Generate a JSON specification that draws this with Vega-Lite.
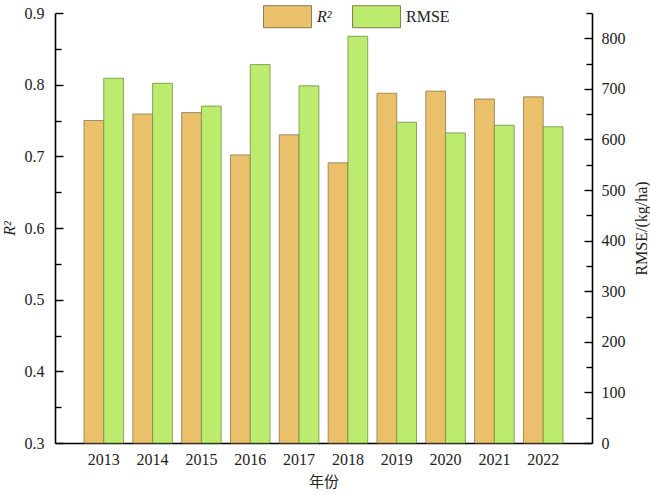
{
  "$schema": "https://vega.github.io/schema/vega-lite/v6.json",
  "width": 537,
  "height": 430,
  "autosize": {"type": "none"},
  "padding": {"left": 55, "top": 13, "right": 58, "bottom": 52},
  "background": "white",
  "config": {
    "view": {"stroke": null},
    "font": "Liberation Serif",
    "axis": {
      "labelFont": "Liberation Serif",
      "titleFont": "Liberation Serif",
      "labelFontSize": 16,
      "titleFontSize": 16,
      "labelColor": "#222",
      "titleColor": "#222",
      "domainColor": "black",
      "domainWidth": 1.6,
      "tickColor": "black",
      "tickWidth": 1.4,
      "grid": false,
      "titleFontWeight": "normal"
    }
  },
  "data": {
    "values": [
      {"year": "2013", "metric": "R²", "value": 0.750},
      {"year": "2014", "metric": "R²", "value": 0.759},
      {"year": "2015", "metric": "R²", "value": 0.761},
      {"year": "2016", "metric": "R²", "value": 0.702},
      {"year": "2017", "metric": "R²", "value": 0.730},
      {"year": "2018", "metric": "R²", "value": 0.691},
      {"year": "2019", "metric": "R²", "value": 0.788},
      {"year": "2020", "metric": "R²", "value": 0.791},
      {"year": "2021", "metric": "R²", "value": 0.780},
      {"year": "2022", "metric": "R²", "value": 0.783},
      {"year": "2013", "metric": "RMSE", "value": 721},
      {"year": "2014", "metric": "RMSE", "value": 711},
      {"year": "2015", "metric": "RMSE", "value": 666},
      {"year": "2016", "metric": "RMSE", "value": 748},
      {"year": "2017", "metric": "RMSE", "value": 706},
      {"year": "2018", "metric": "RMSE", "value": 804},
      {"year": "2019", "metric": "RMSE", "value": 634},
      {"year": "2020", "metric": "RMSE", "value": 613},
      {"year": "2021", "metric": "RMSE", "value": 628},
      {"year": "2022", "metric": "RMSE", "value": 625}
    ]
  },
  "encoding": {
    "x": {
      "field": "year",
      "type": "nominal",
      "scale": {"paddingInner": 0.19, "paddingOuter": 0.594},
      "axis": {
        "title": "年份",
        "titleFont": "Noto Sans CJK SC",
        "titleFontSize": 15,
        "titlePadding": 7,
        "labelAngle": 0,
        "ticks": false,
        "labelPadding": 8
      }
    },
    "xOffset": {
      "field": "metric",
      "type": "nominal",
      "scale": {"domain": ["R²", "RMSE"], "paddingInner": 0}
    },
    "color": {
      "field": "metric",
      "type": "nominal",
      "scale": {"domain": ["R²", "RMSE"], "range": ["#EBC06B", "#BDEB6E"]},
      "legend": {
        "title": null,
        "orient": "none",
        "legendX": 208,
        "legendY": -21,
        "direction": "horizontal",
        "symbolType": "M-1,-0.46H1V0.46H-1Z",
        "symbolSize": 2300,
        "symbolStrokeColor": "#8a7a50",
        "symbolStrokeWidth": 1,
        "labelFont": "Liberation Serif",
        "labelFontSize": 16,
        "labelColor": "#222",
        "labelOffset": 5,
        "columnPadding": 18,
        "encode": {
          "labels": {
            "update": {
              "fontStyle": {"signal": "datum.label == 'R²' ? 'italic' : 'normal'"}
            }
          }
        }
      }
    }
  },
  "layer": [
    {
      "transform": [{"filter": "datum.metric == 'R²'"}],
      "mark": {"type": "bar", "stroke": "#8a7a50", "strokeWidth": 0.8},
      "encoding": {
        "y": {
          "field": "value",
          "type": "quantitative",
          "scale": {"domain": [0.3, 0.9], "nice": false, "zero": false},
          "axis": {
            "orient": "left",
            "title": "R²",
            "titleFontStyle": "italic",
            "titleFontSize": 16,
            "titlePadding": 7,
            "values": [0.3, 0.35, 0.4, 0.45, 0.5, 0.55, 0.6, 0.65, 0.7, 0.75, 0.8, 0.85, 0.9],
            "labelExpr": "abs(datum.value * 10 - round(datum.value * 10)) < 0.01 ? format(datum.value, '.1f') : ''",
            "tickSize": {"condition": {"test": "abs(datum.value * 10 - round(datum.value * 10)) < 0.01", "value": -8}, "value": -6},
            "labelPadding": 19
          }
        },
        "y2": {"datum": 0.3}
      }
    },
    {
      "transform": [{"filter": "datum.metric == 'RMSE'"}],
      "mark": {"type": "bar", "stroke": "#6f8f48", "strokeWidth": 0.8},
      "encoding": {
        "y": {
          "field": "value",
          "type": "quantitative",
          "scale": {"domain": [0, 850], "nice": false},
          "axis": {
            "orient": "right",
            "title": "RMSE/(kg/ha)",
            "titleAngle": 270,
            "titlePadding": 24,
            "values": [0, 50, 100, 150, 200, 250, 300, 350, 400, 450, 500, 550, 600, 650, 700, 750, 800, 850],
            "labelExpr": "datum.value % 100 == 0 ? datum.value : ''",
            "tickSize": {"condition": {"test": "datum.value % 100 == 0", "value": -8}, "value": -6},
            "labelPadding": 17
          }
        }
      }
    }
  ],
  "resolve": {"scale": {"y": "independent"}}
}
